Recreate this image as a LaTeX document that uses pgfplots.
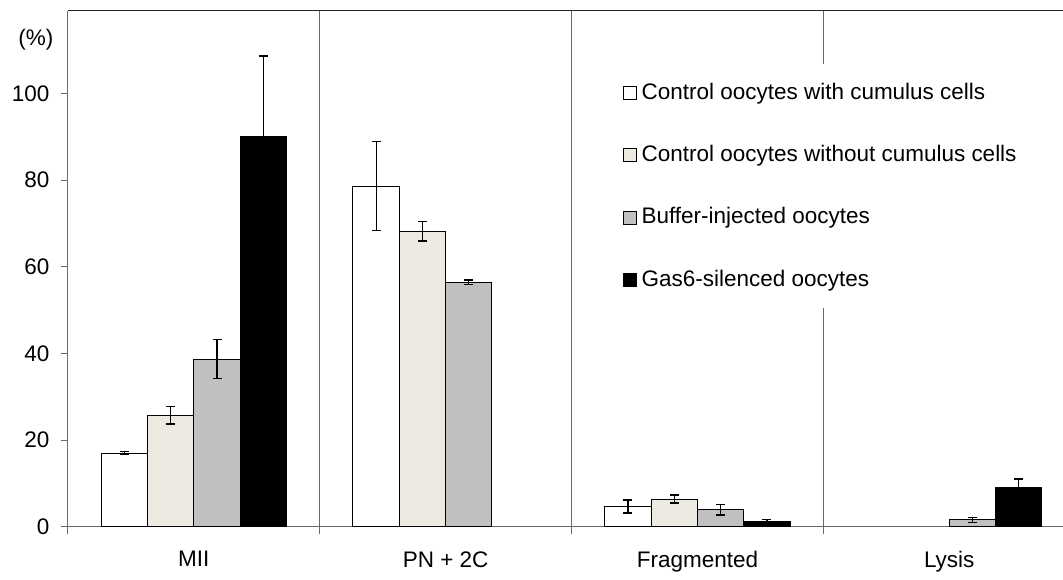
\documentclass[border=0pt]{standalone}
\usepackage{pgfplots}
\pgfplotsset{compat=1.18}
\usepackage{fontspec}
\setmainfont{Liberation Sans}

\definecolor{cream}{RGB}{237,234,225}
\definecolor{midgray}{RGB}{192,192,192}
\definecolor{axisgray}{RGB}{105,105,105}

\begin{document}
\fontsize{22.5}{27}\selectfont
\begin{tikzpicture}
\begin{axis}[
  name=ax,
  scale only axis, width=995pt, height=516pt,
  xmin=-0.5, xmax=3.45, ymin=0, ymax=119,
  clip=false,
  axis x line*=bottom, axis y line*=left,
  axis line style={axisgray, line width=1pt},
  tick align=outside, major tick length=7pt,
  tick style={axisgray, line width=1pt},
  ytick={0,20,...,100},
  xtick={-0.5,0.5,1.5,2.5}, xticklabels={},
  extra x ticks={0,1,2,3},
  extra x tick labels={MII, PN + 2C, Fragmented, Lysis},
  extra x tick style={major tick length=0pt, tick style={draw=none}},
  ticklabel style={font=\fontsize{22.5}{27}\selectfont, text=black},
  /pgf/number format/assume math mode=true,
  x tick label style={yshift=-17pt},
  y tick label style={xshift=-4pt},
  ybar, bar width=0.184,
  every axis plot/.append style={draw=black, line width=1pt},
  error bars/y dir=both, error bars/y explicit,
  error bars/error bar style={black, line width=1.3pt},
  error bars/error mark options={black, rotate=90, mark size=4.5pt, line width=1.3pt},
  legend image code/.code={\draw[#1, line width=0.7pt] (0pt,-6.5pt) rectangle (13pt,6.5pt);},
  legend style={at={(rel axis cs:0.5497,0.897)}, anchor=north west,
    draw=none, fill=white, inner xsep=8pt, inner ysep=17pt,
    row sep=38.5pt, font=\fontsize{22.5}{27}\selectfont,
    cells={anchor=west},
    nodes={inner xsep=5pt}},
]
% group separators
\draw[axisgray, line width=1pt] (axis cs:0.5,0) -- (axis cs:0.5,119);
\draw[axisgray, line width=1pt] (axis cs:1.5,0) -- (axis cs:1.5,119);
\draw[axisgray, line width=1pt] (axis cs:2.5,0) -- (axis cs:2.5,119);
% top frame line
\draw[black!85, line width=1pt] (rel axis cs:0,1) -- (rel axis cs:1,1);

\addplot[fill=white, bar shift=-0.276] coordinates {
  (0,17.0) +- (0,0.4)
  (1,78.6) +- (0,10.3)
  (2,4.7)  +- (0,1.5)
};
\addplot[fill=cream, bar shift=-0.092] coordinates {
  (0,25.7) +- (0,2.0)
  (1,68.2) +- (0,2.3)
  (2,6.4)  +- (0,0.9)
};
\addplot[fill=midgray, bar shift=0.092] coordinates {
  (0,38.7) +- (0,4.5)
  (1,56.4) +- (0,0.5)
  (2,3.9)  +- (0,1.2)
  (3,1.6)  +- (0,0.6)
};
\addplot[fill=black, bar shift=0.276] coordinates {
  (0,90.1) +- (0,18.5)
  (2,1.3)  +- (0,0.3)
  (3,9.1)  +- (0,1.9)
};
\legend{Control oocytes with cumulus cells,
        Control oocytes without cumulus cells,
        Buffer-injected oocytes,
        Gas6-silenced oocytes}
\end{axis}
\node at ([shift={(-32pt,487pt)}]ax.south west) {(\%)};
\path[use as bounding box] ([shift={(-68pt,-45pt)}]ax.south west)
  rectangle ([shift={(995pt,527pt)}]ax.south west);
\end{tikzpicture}
\end{document}
